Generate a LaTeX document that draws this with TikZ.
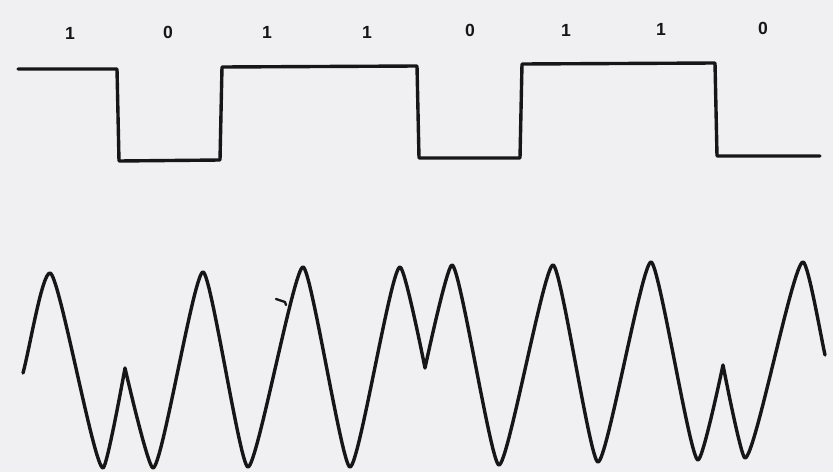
\documentclass[tikz,border=0pt]{standalone}
\usepackage{fontspec}
\setmainfont{Liberation Sans}
\definecolor{paper}{RGB}{240,240,242}
\definecolor{ink}{RGB}{22,22,22}
\begin{document}
\begin{tikzpicture}[x=0.03cm,y=-0.03cm,
  wave/.style={draw=ink,line width=2.9pt,line cap=round,line join=round},
  bit/.style={text=ink,font=\fontsize{15}{17}\selectfont\bfseries,inner sep=0pt}]
\fill[paper] (0,0) rectangle (833,472);
\useasboundingbox (0,0) rectangle (833,472);
% bit labels
\node[bit] (b1) at (70,33) {1};
\node[bit] (b2) at (168,32) {0};
\node[bit] (b3) at (267,32) {1};
\node[bit] (b4) at (367,32) {1};
\node[bit] (b5) at (470,30) {0};
\node[bit] (b6) at (566,30) {1};
\node[bit] (b7) at (661,29) {1};
\node[bit] (b8) at (763,28) {0};
% square wave
\draw[wave] (18,69) -- (117,69) -- (119,161) -- (220,160) -- (222,67)
  -- (417,66) -- (419,158) -- (520,158) -- (522,64) -- (715,63)
  -- (717,156) -- (820,156);
% modulated carrier
\draw[wave] (23,373)
  .. controls (30,347) and (42,273) .. (50,273)
  .. controls (59,273) and (94,468) .. (103,468)
  .. controls (107,468) and (125,368) .. (125,368)
  .. controls (125,368) and (148,468) .. (153,468)
  .. controls (162,468) and (194,272) .. (203,272)
  .. controls (211,272) and (240,467) .. (248,467)
  .. controls (257,467) and (294,267) .. (303,267)
  .. controls (311,267) and (342,467) .. (350,467)
  .. controls (359,467) and (391,267) .. (400,267)
  .. controls (405,267) and (425,368) .. (425,368)
  .. controls (425,368) and (447,265) .. (452,265)
  .. controls (460,265) and (491,465) .. (499,465)
  .. controls (508,465) and (544,265) .. (553,265)
  .. controls (561,265) and (590,462) .. (598,462)
  .. controls (607,462) and (642,262) .. (651,262)
  .. controls (659,262) and (690,460) .. (698,460)
  .. controls (703,460) and (723,365) .. (723,365)
  .. controls (723,365) and (741,458) .. (745,458)
  .. controls (755,458) and (793,262) .. (803,262)
  .. controls (808,262) and (821,337) .. (825,355);
% small stray tick on the carrier
\draw[wave,line width=2pt] (276,299) -- (285,302) -- (286,305);
\end{tikzpicture}
\end{document}
